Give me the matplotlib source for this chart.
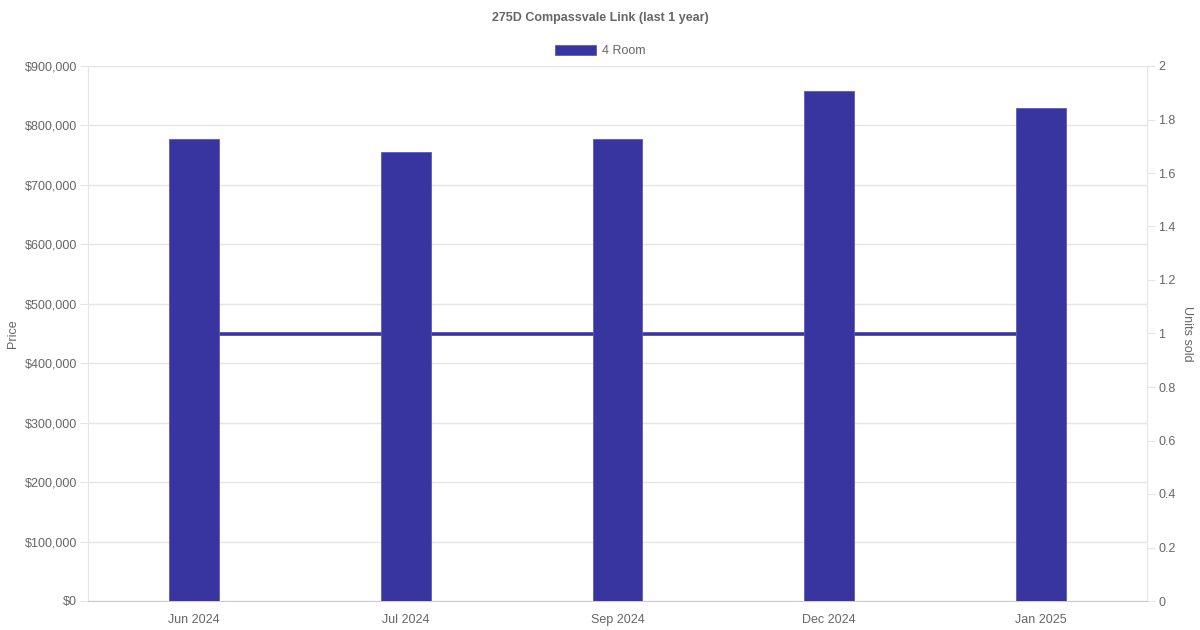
import matplotlib
matplotlib.use("Agg")
import matplotlib.pyplot as plt
from matplotlib.ticker import FuncFormatter, MultipleLocator
from matplotlib.patches import Patch

categories = ["Jun 2024", "Jul 2024", "Sep 2024", "Dec 2024", "Jan 2025"]
prices = [777000, 755000, 777000, 858000, 830000]
units_sold = [1, 1, 1, 1, 1]
series_name = "4 Room"
title = "275D Compassvale Link (last 1 year)"

color = "#3835a0"
txt = "#666666"
grid = "#e5e5e5"

plt.rcParams["font.family"] = ["Liberation Sans", "DejaVu Sans"]

fig = plt.figure(figsize=(12, 6.3), dpi=100)
ax = fig.add_axes([88/1200, 29/630, (1147-88)/1200, (601-66)/630])
ax2 = ax.twinx()

x = list(range(len(categories)))

ax.bar(x, prices, width=0.236, color=color, edgecolor="#5d5ab8", linewidth=0.6, zorder=3)
ax2.plot(x, units_sold, color=color, linewidth=2.6, zorder=1, solid_capstyle="butt")

ax.set_zorder(ax2.get_zorder() + 1)
ax.patch.set_visible(False)

ax.set_xlim(-0.5, 4.5)
ax.set_ylim(0, 900000)
ax2.set_ylim(0, 2)
ax.yaxis.set_major_locator(MultipleLocator(100000))
ax2.yaxis.set_major_locator(MultipleLocator(0.2))
ax.yaxis.set_major_formatter(FuncFormatter(lambda v, p: f"${int(v):,}"))
ax2.yaxis.set_major_formatter(FuncFormatter(lambda v, p: f"{v:g}"))
ax.set_xticks(x)
ax.set_xticklabels(categories)

ax.grid(axis="y", color=grid, linewidth=1, zorder=0)
ax.set_axisbelow(True)

for a in (ax, ax2):
    for s in a.spines.values():
        s.set_visible(False)
ax.spines["left"].set_visible(True)
ax.spines["left"].set_color(grid)
ax.spines["bottom"].set_visible(True)
ax.spines["bottom"].set_color("#cccccc")
ax2.spines["right"].set_visible(True)
ax2.spines["right"].set_color(grid)

ax.tick_params(axis="y", colors=txt, labelsize=9, length=5.8, color=grid, pad=2.2)
ax.tick_params(axis="x", colors=txt, labelsize=9, length=0, pad=9.5)
ax2.tick_params(axis="y", colors=txt, labelsize=9, length=5.8, color=grid, pad=2.2)

ax.set_ylabel("Price", color=txt, fontsize=9, labelpad=4)
ax2.set_ylabel("Units sold", color=txt, fontsize=9, rotation=270, labelpad=12.5)

fig.text(0.5, 1 - 18.5/630, title, ha="center", va="center", fontsize=9, fontweight="bold", color=txt)
leg = fig.legend(handles=[Patch(facecolor=color, edgecolor="#5d5ab8", linewidth=0.6, label=series_name)],
                 loc="center", bbox_to_anchor=(0.5, 1 - 51/630), frameon=False,
                 handlelength=3.3, handleheight=0.9, fontsize=9, labelcolor=txt, handletextpad=0.5)

fig.savefig("out.png", dpi=100)
